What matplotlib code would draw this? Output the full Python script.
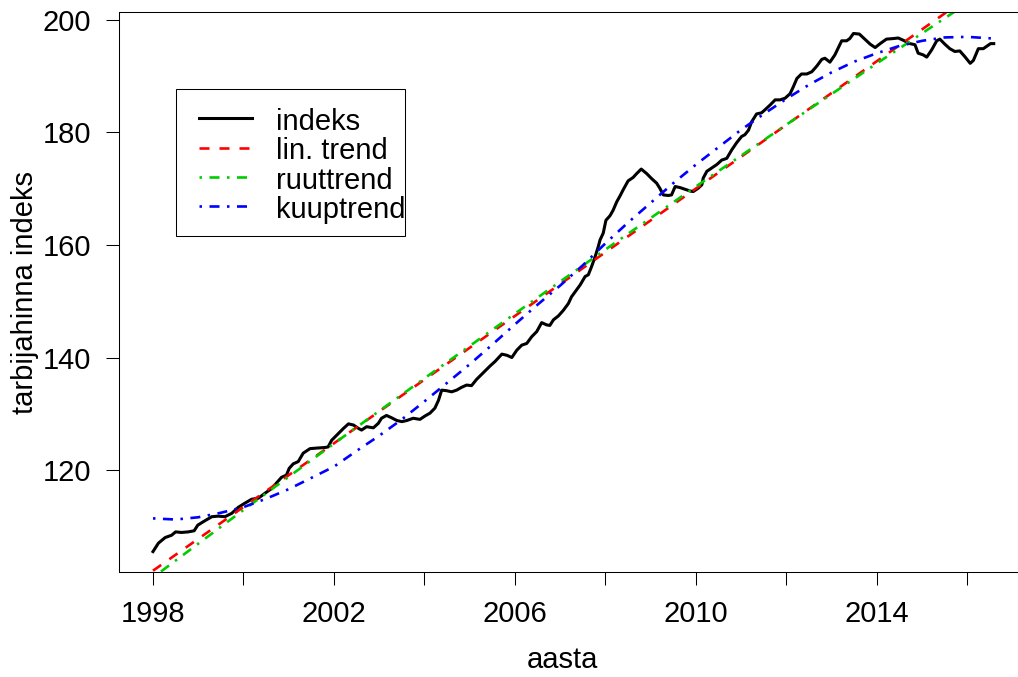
import matplotlib.pyplot as plt
from matplotlib.lines import Line2D
from matplotlib.patches import Rectangle

plt.rcParams["font.family"] = ["Liberation Sans", "DejaVu Sans"]
plt.rcParams["lines.scale_dashes"] = False

# tarbijahinna indeks (loetud graafikult)
index_years = [
    1998.00, 1998.12, 1998.27, 1998.41, 1998.50, 1998.63, 1998.78, 1998.91, 1998.99, 1999.11,
    1999.30, 1999.44, 1999.59, 1999.74, 1999.89, 2000.03, 2000.18, 2000.33, 2000.48, 2000.62,
    2000.73, 2000.84, 2000.95, 2001.01, 2001.10, 2001.21, 2001.32, 2001.47, 2001.62, 2001.80,
    2001.87, 2001.95, 2002.06, 2002.21, 2002.32, 2002.43, 2002.54, 2002.61, 2002.72, 2002.87,
    2002.98, 2003.05, 2003.16, 2003.27, 2003.39, 2003.50, 2003.61, 2003.75, 2003.90, 2004.01,
    2004.12, 2004.23, 2004.31, 2004.38, 2004.49, 2004.60, 2004.71, 2004.82, 2004.93, 2005.04,
    2005.15, 2005.30, 2005.45, 2005.56, 2005.71, 2005.82, 2005.93, 2006.04, 2006.15, 2006.26,
    2006.37, 2006.48, 2006.59, 2006.70, 2006.77, 2006.85, 2006.96, 2007.07, 2007.18, 2007.25,
    2007.36, 2007.44, 2007.55, 2007.62, 2007.69, 2007.77, 2007.84, 2007.88, 2007.95, 2008.01,
    2008.10, 2008.17, 2008.25, 2008.32, 2008.39, 2008.50, 2008.61, 2008.69, 2008.79, 2008.91,
    2009.02, 2009.13, 2009.20, 2009.28, 2009.39, 2009.46, 2009.54, 2009.65, 2009.76, 2009.87,
    2009.94, 2010.05, 2010.13, 2010.16, 2010.24, 2010.35, 2010.46, 2010.57, 2010.68, 2010.79,
    2010.90, 2011.01, 2011.08, 2011.16, 2011.23, 2011.34, 2011.45, 2011.52, 2011.64, 2011.75,
    2011.86, 2011.97, 2012.08, 2012.15, 2012.23, 2012.33, 2012.45, 2012.56, 2012.67, 2012.78,
    2012.85, 2012.96, 2013.07, 2013.22, 2013.33, 2013.40, 2013.48, 2013.61, 2013.73, 2013.85,
    2013.96, 2014.07, 2014.21, 2014.36, 2014.47, 2014.58, 2014.73, 2014.84, 2014.91, 2015.02,
    2015.10, 2015.21, 2015.32, 2015.39, 2015.50, 2015.61, 2015.72, 2015.83, 2015.94, 2016.06,
    2016.13, 2016.24, 2016.35, 2016.42, 2016.51, 2016.58,
]
index_values = [
    105.5, 107.0, 108.0, 108.4, 109.0, 108.9, 109.0, 109.2, 110.2, 110.8,
    111.7, 111.8, 111.7, 112.3, 113.4, 114.1, 114.8, 115.0, 115.9, 116.7,
    117.7, 118.7, 119.1, 120.3, 121.1, 121.5, 123.0, 123.8, 123.9, 124.0,
    124.1, 125.3, 126.2, 127.4, 128.2, 128.0, 127.4, 127.1, 127.7, 127.5,
    128.3, 129.2, 129.7, 129.3, 128.8, 128.6, 128.8, 129.2, 129.0, 129.6,
    130.1, 131.0, 132.4, 134.2, 134.1, 133.9, 134.2, 134.7, 135.1, 135.0,
    136.1, 137.3, 138.5, 139.3, 140.6, 140.4, 140.0, 141.3, 142.2, 142.5,
    143.7, 144.6, 146.2, 145.8, 145.7, 146.7, 147.4, 148.4, 149.6, 150.8,
    152.0, 152.9, 154.4, 154.7, 156.1, 157.9, 159.7, 160.9, 162.1, 164.4,
    165.2, 166.2, 167.7, 168.7, 169.8, 171.4, 172.0, 172.7, 173.5, 172.7,
    171.8, 171.0, 170.1, 168.9, 168.8, 168.9, 170.4, 170.2, 169.9, 169.6,
    169.5, 170.1, 170.7, 171.9, 173.1, 173.7, 174.3, 175.1, 175.4, 176.9,
    178.2, 179.3, 179.6, 180.4, 181.9, 183.3, 183.5, 184.0, 184.9, 185.8,
    185.8, 186.1, 186.9, 188.1, 189.6, 190.4, 190.4, 190.8, 191.8, 193.0,
    193.2, 192.5, 193.8, 196.3, 196.3, 196.7, 197.6, 197.5, 196.6, 195.7,
    195.1, 195.8, 196.6, 196.7, 196.8, 196.4, 195.8, 195.6, 194.1, 193.8,
    193.4, 194.7, 196.3, 196.6, 195.7, 194.9, 194.4, 194.5, 193.5, 192.3,
    192.8, 194.9, 194.9, 195.3, 195.8, 195.8,
]

# trendid (loetud graafikult)
lin_years = [1998.0, 2016.58]
lin_values = [102.1, 207.3]

quad_years = [1998.0, 2000.0, 2002.0, 2004.0, 2006.0, 2008.0, 2010.0, 2012.0, 2014.0, 2016.0, 2016.58]
quad_values = [100.9, 112.9, 124.7, 136.3, 147.8, 159.2, 170.4, 181.4, 192.3, 203.0, 206.1]

cub_years = [1998.0, 1998.5, 1999.0, 1999.5, 2000.0, 2000.5, 2001.0, 2001.5, 2002.0, 2002.5,
             2003.0, 2003.5, 2004.0, 2004.5, 2005.0, 2005.5, 2006.0, 2006.5, 2007.0, 2007.5,
             2008.0, 2008.5, 2009.0, 2009.5, 2010.0, 2010.5, 2011.0, 2011.5, 2012.0, 2012.5,
             2013.0, 2013.5, 2014.0, 2014.5, 2015.0, 2015.5, 2016.0, 2016.58]
cub_values = [111.4, 111.2, 111.6, 112.4, 113.4, 114.9, 116.6, 118.6, 120.6, 123.4,
              126.1, 129.0, 132.2, 135.5, 138.8, 142.3, 145.9, 149.4, 152.8, 156.4,
              160.3, 164.0, 167.5, 171.0, 174.3, 177.4, 180.5, 183.3, 186.0, 188.5,
              190.7, 192.6, 194.1, 195.4, 196.3, 196.9, 197.0, 196.7]

legend_labels = ["indeks", "lin. trend", "ruuttrend", "kuuptrend"]
colors = ["black", "#FF0000", "#00CD00", "#0000FF"]
dash_lin = (0, (7.2, 7.2))
dash_dotdash = (0, (1.8, 5.4, 7.2, 5.4))
styles = ["-", dash_lin, dash_dotdash, dash_dotdash]

W, H = 1018, 677
fig = plt.figure(figsize=(W / 100, H / 100), dpi=100)

# teljestiku asukoht pikslites
left_px, right_px, top_px, bottom_px = 118.6, 1027.2, 12, 572
ax = fig.add_axes([left_px / W, 1 - bottom_px / H, (right_px - left_px) / W, (bottom_px - top_px) / H])

lw = 1.9
ax.plot(index_years, index_values, color=colors[0], lw=2.2, ls=styles[0])
ax.plot(lin_years, lin_values, color=colors[1], lw=lw, ls=styles[1])
ax.plot(quad_years, quad_values, color=colors[2], lw=lw, ls=styles[2])
ax.plot(cub_years, cub_values, color=colors[3], lw=lw, ls=styles[3])

ax.set_xlim(1997.24, 2017.32)
ax.set_ylim(101.87, 201.42)

xt = list(range(1998, 2017, 2))
ax.set_xticks(xt)
ax.set_xticklabels([str(y) if (y - 1998) % 4 == 0 else "" for y in xt])
ax.set_yticks([120, 140, 160, 180, 200])
ax.tick_params(direction="out", length=9.4, width=0.75, pad=10.5, labelsize=21, colors="black")
for s in ax.spines.values():
    s.set_linewidth(0.75)
    s.set_color("black")

fig.text(562 / W, 1 - 660 / H, "aasta", fontsize=21, ha="center", va="center")
fig.text(25 / W, 1 - 292 / H, "tarbijahinna indeks", fontsize=21, ha="center", va="center", rotation=90)

# legend käsitsi
lx0, ly0, lx1, ly1 = 175.7, 89.3, 405, 236
fig.add_artist(Rectangle((lx0 / W, 1 - ly1 / H), (lx1 - lx0) / W, (ly1 - ly0) / H,
                         transform=fig.transFigure, fill=True, facecolor="white",
                         edgecolor="black", lw=0.75))
row_y = [118.3, 147.6, 176.9, 206.2]
for i, lab in enumerate(legend_labels):
    y = 1 - row_y[i] / H
    fig.add_artist(Line2D([199 / W, 252 / W], [y, y], transform=fig.transFigure,
                          color=colors[i], lw=2.2 if i == 0 else lw, ls=styles[i]))
    fig.text(275.7 / W, 1 - (row_y[i] + 11.7) / H, lab, fontsize=21, ha="left", va="baseline")

fig.savefig("out.png", dpi=100)
